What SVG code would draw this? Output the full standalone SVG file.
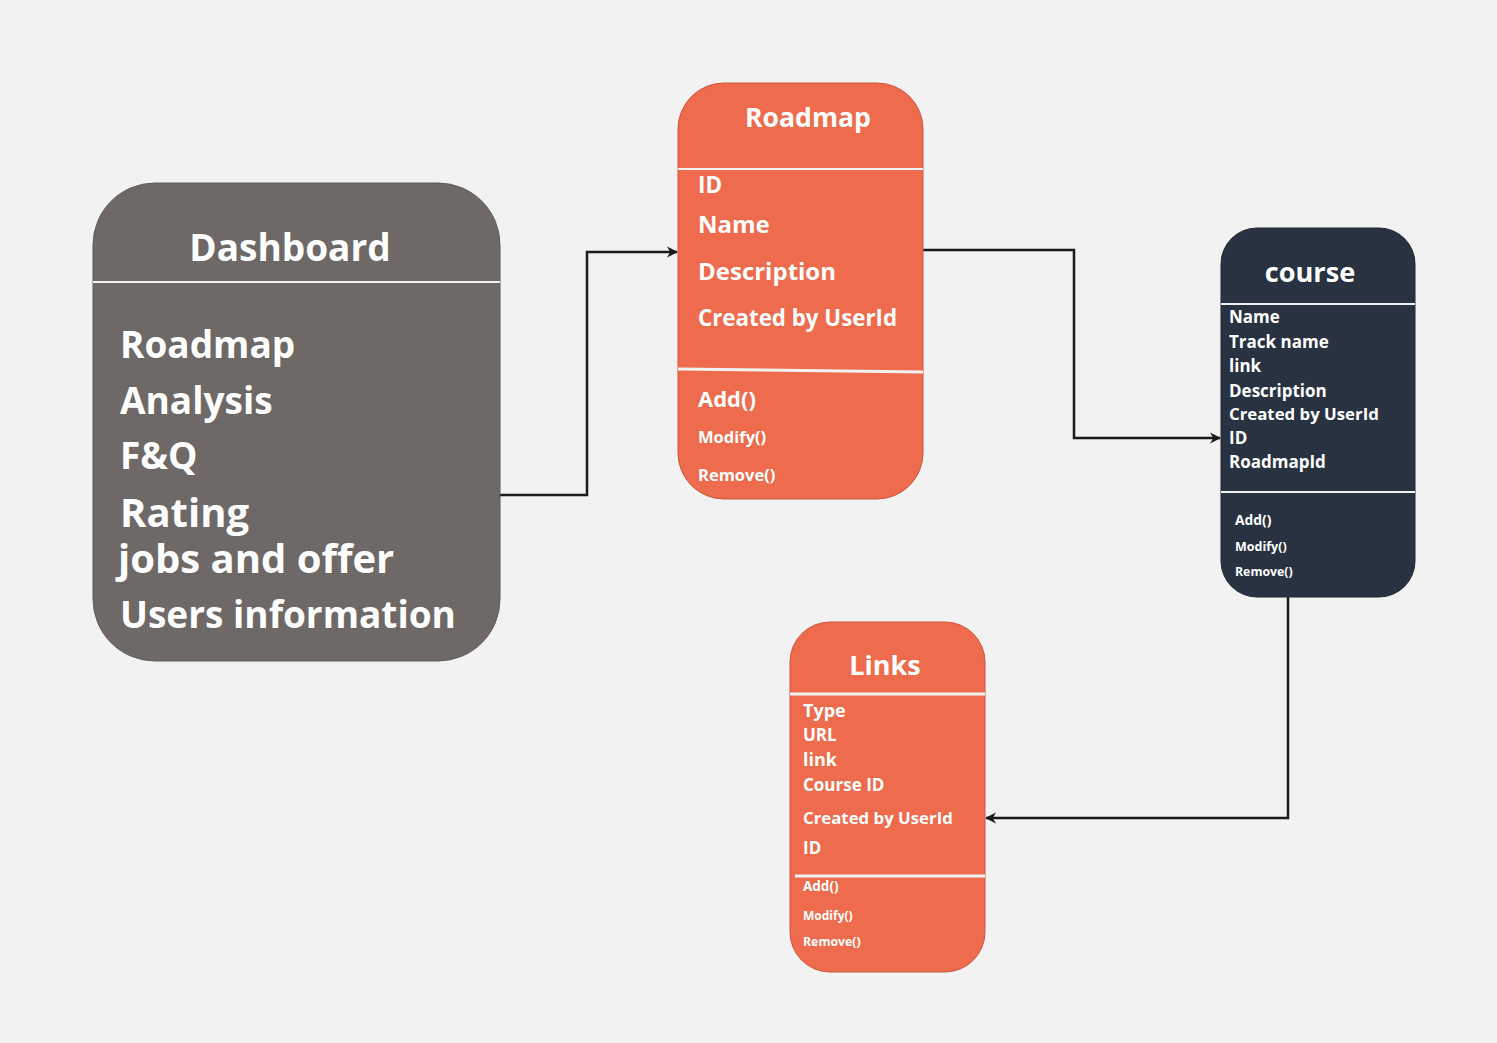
<svg xmlns="http://www.w3.org/2000/svg" width="1497" height="1043" viewBox="0 0 1497 1043">
<style>
text{font-family:"Open Sans","Noto Sans","Liberation Sans",sans-serif;font-weight:700;fill:#ffffff}
.div{stroke:#f2f2f2;fill:none}
.conn{stroke:#1b1b1b;stroke-width:2.5;fill:none}
</style>
<defs>
<marker id="arr" viewBox="0 0 10 10" refX="9" refY="5" markerWidth="4.5" markerHeight="4.5" orient="auto" markerUnits="strokeWidth">
<path d="M0,0 L10,5 L0,10 L3,5 z" fill="#1b1b1b"/>
</marker>
</defs>
<rect x="0" y="0" width="1497" height="1043" fill="#f2f2f2"/>
<g id="connectors">
<path class="conn" d="M500,495 H587 V252 H677" marker-end="url(#arr)"/>
<path class="conn" d="M923,250 H1074 V438 H1220" marker-end="url(#arr)"/>
<path class="conn" d="M1288,597 V818 H986" marker-end="url(#arr)"/>
</g>
<g id="dashboard">
<rect x="93" y="183" width="407" height="478" rx="62" fill="#6e6967" stroke="#5e5a58" stroke-width="1"/>
<line class="div" x1="93" y1="282" x2="500" y2="282" stroke-width="2"/>
<text x="290" y="261" font-size="37" text-anchor="middle">Dashboard</text>
<text x="120" y="358" font-size="37">Roadmap</text>
<text x="120" y="414" font-size="37">Analysis</text>
<text x="120" y="469" font-size="37">F&amp;Q</text>
<text x="120" y="527" font-size="40">Rating</text>
<text x="118" y="573" font-size="40">jobs and offer</text>
<text x="120" y="628" font-size="37">Users information</text>
</g>
<g id="roadmap">
<rect x="678" y="83" width="245" height="416" rx="46" fill="#ee6c4d" stroke="#c9583d" stroke-width="1"/>
<line class="div" x1="678" y1="169" x2="923" y2="169" stroke-width="2"/>
<line class="div" x1="678" y1="369" x2="923" y2="372" stroke-width="3"/>
<text x="808" y="127" font-size="26.6" text-anchor="middle">Roadmap</text>
<text x="698" y="193" font-size="22.5">ID</text>
<text x="698" y="233" font-size="24">Name</text>
<text x="698" y="280" font-size="24">Description</text>
<text x="698" y="326" font-size="22.3">Created by UserId</text>
<text x="698" y="407" font-size="22">Add()</text>
<text x="698" y="443" font-size="16.5">Modify()</text>
<text x="698" y="481" font-size="16.5">Remove()</text>
</g>
<g id="course">
<rect x="1221" y="228" width="194" height="369" rx="36" fill="#283241" stroke="#1e2632" stroke-width="1"/>
<line class="div" x1="1221" y1="304" x2="1415" y2="304" stroke-width="2"/>
<line class="div" x1="1221" y1="492" x2="1415" y2="492" stroke-width="2"/>
<text x="1310" y="282" font-size="27.2" text-anchor="middle">course</text>
<text x="1229" y="323" font-size="17">Name</text>
<text x="1229" y="348" font-size="17">Track name</text>
<text x="1229" y="372" font-size="17">link</text>
<text x="1229" y="397" font-size="17">Description</text>
<text x="1229" y="420" font-size="16.8">Created by UserId</text>
<text x="1229" y="444" font-size="17">ID</text>
<text x="1229" y="468" font-size="17">RoadmapId</text>
<text x="1235" y="525" font-size="13.8">Add()</text>
<text x="1235" y="551" font-size="12.5">Modify()</text>
<text x="1235" y="576" font-size="12.3">Remove()</text>
</g>
<g id="links">
<rect x="790" y="622" width="195" height="350" rx="40" fill="#ee6c4d" stroke="#c9583d" stroke-width="1"/>
<line class="div" x1="790" y1="694" x2="985" y2="694" stroke-width="3"/>
<line class="div" x1="795" y1="876" x2="985" y2="876" stroke-width="3"/>
<text x="885" y="675" font-size="27" text-anchor="middle">Links</text>
<text x="803" y="717" font-size="18">Type</text>
<text x="803" y="741" font-size="17">URL</text>
<text x="803" y="766" font-size="18">link</text>
<text x="803" y="791" font-size="17">Course ID</text>
<text x="803" y="824" font-size="16.8">Created by UserId</text>
<text x="803" y="854" font-size="17">ID</text>
<text x="803" y="891" font-size="13.5">Add()</text>
<text x="803" y="920" font-size="12">Modify()</text>
<text x="803" y="946" font-size="12.3">Remove()</text>
</g>
</svg>
